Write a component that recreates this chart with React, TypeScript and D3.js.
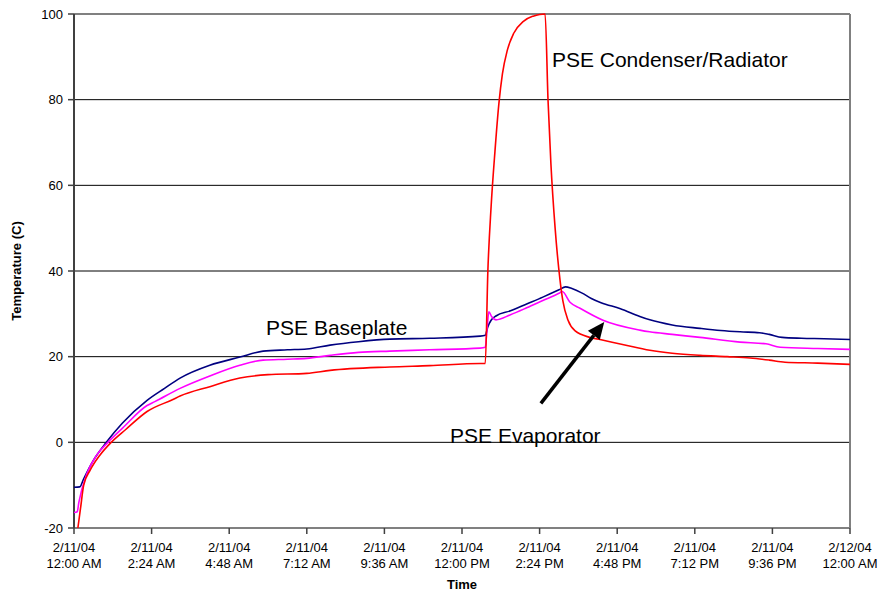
import React from "react";
import * as d3 from "d3";

const xTickHours = [0, 2.4, 4.8, 7.2, 9.6, 12, 14.4, 16.8, 19.2, 21.6, 24];
const xTickDates = ["2/11/04", "2/11/04", "2/11/04", "2/11/04", "2/11/04", "2/11/04", "2/11/04", "2/11/04", "2/11/04", "2/11/04", "2/12/04"];
const xTickTimes = ["12:00 AM", "2:24 AM", "4:48 AM", "7:12 AM", "9:36 AM", "12:00 PM", "2:24 PM", "4:48 PM", "7:12 PM", "9:36 PM", "12:00 AM"];
const yTicks = [-20, 0, 20, 40, 60, 80, 100];
const gridValues = [0, 20, 40, 60, 80];

const baseplateHours = [0, 0.18, 0.3, 0.6, 1.0, 1.5, 2.26, 2.8, 3.28, 4.2, 5.13, 5.85, 6.6, 7.2, 7.92, 8.8, 9.77, 11, 12.56, 12.72, 12.8, 12.9, 13.05, 13.5, 14, 14.5, 15, 15.2, 15.4, 15.7, 16.0, 16.3, 16.9, 17.5, 17.81, 18.5, 19.36, 20, 20.6, 21.2, 21.5, 21.9, 22.5, 23.2, 24];
const baseplateTemps = [-10.5, -10.4, -8.5, -4.2, 0, 4.5, 9.8, 12.6, 15, 18, 19.9, 21.3, 21.6, 21.8, 22.7, 23.5, 24.1, 24.3, 24.8, 25, 27, 28.5, 29.5, 30.7, 32.3, 33.9, 35.6, 36.3, 35.9, 34.9, 33.6, 32.6, 31.2, 29.4, 28.6, 27.4, 26.6, 26.1, 25.8, 25.6, 25.2, 24.5, 24.3, 24.2, 24];

const evaporatorHours = [0, 0.1, 0.15, 0.4, 0.7, 1.05, 1.5, 2.26, 2.5, 3.28, 4.2, 5.13, 5.85, 6.6, 7.2, 7.92, 8.8, 9.77, 11, 12.56, 12.72, 12.78, 12.83, 12.92, 13.05, 13.5, 14, 14.5, 15, 15.1, 15.34, 15.65, 16.36, 17.5, 17.8, 18.5, 19.36, 20.6, 21.4, 21.84, 23, 24];
const evaporatorTemps = [-16.4, -16.2, -14, -7.3, -3, 0, 3.3, 8.6, 9.5, 12.6, 15.5, 18, 19.2, 19.4, 19.6, 20.3, 21, 21.3, 21.6, 22, 22.2, 27, 30.5, 29.3, 28.6, 29.8, 31.4, 33.1, 34.8, 35.2, 32.7, 31.3, 28.5, 26.2, 25.8, 25.2, 24.5, 23.4, 23, 22.2, 21.9, 21.7];

const condenserHours = [0.12, 0.2, 0.3, 0.5, 0.8, 1.15, 1.6, 2.26, 3.06, 3.28, 4.2, 5.13, 6, 7.2, 7.92, 9.77, 11, 12.56, 12.72, 12.8, 12.9, 13.02, 13.14, 13.25, 13.4, 13.6, 13.9, 14.2, 14.4, 14.57, 14.66, 14.75, 14.88, 15.03, 15.12, 15.28, 15.5, 15.96, 16.27, 17, 17.81, 18.5, 19.36, 20.2, 20.91, 21.5, 21.99, 23, 24];
const condenserTemps = [-20, -15.5, -10, -6.5, -3, 0, 3, 7.2, 10, 10.8, 13, 15, 15.8, 16.1, 16.8, 17.6, 17.9, 18.4, 18.4, 40, 55, 68, 79, 86, 91.5, 95.5, 98.3, 99.5, 99.9, 100, 80, 65, 50, 38, 33, 28.5, 26, 24.5, 24, 22.8, 21.5, 20.8, 20.3, 20, 19.7, 19.2, 18.7, 18.5, 18.2];

const seriesNames = ["PSE Baseplate", "PSE Evaporator", "PSE Condenser/Radiator"];
const seriesColors = ["#000080", "#FF00FF", "#FF0000"];

const W = 879;
const H = 592;
const M = { left: 74, right: 29, top: 14, bottom: 64 };
const FONT = "'Liberation Sans', Arial, sans-serif";

export default function App() {
  const x = d3.scaleLinear().domain([0, 24]).range([M.left, W - M.right]);
  const y = d3.scaleLinear().domain([-20, 100]).range([H - M.bottom, M.top]);
  const line = d3
    .line<[number, number]>()
    .x((d) => x(d[0]))
    .y((d) => y(d[1]))
    .curve(d3.curveMonotoneX);

  const series = [
    baseplateHours.map((h, i) => [h, baseplateTemps[i]] as [number, number]),
    evaporatorHours.map((h, i) => [h, evaporatorTemps[i]] as [number, number]),
    condenserHours.map((h, i) => [h, condenserTemps[i]] as [number, number]),
  ];

  const x0 = x(0), x1 = x(24), yTop = y(100), yBot = y(-20);

  // arrow in data coordinates
  const tail: [number, number] = [14.44, 9.1];
  const head: [number, number] = [16.4, 28.1];
  const tx = x(tail[0]), ty = y(tail[1]), hx = x(head[0]), hy = y(head[1]);
  const ang = Math.atan2(hy - ty, hx - tx);
  const aLen = 17, aHalf = 7.5;
  const bx = hx - aLen * Math.cos(ang), by = hy - aLen * Math.sin(ang);
  const px = -Math.sin(ang), py = Math.cos(ang);
  const arrowPts = [
    [hx, hy],
    [bx + aHalf * px, by + aHalf * py],
    [bx - aHalf * px, by - aHalf * py],
  ].map((p) => p.join(",")).join(" ");

  return (
    <svg
      width={W}
      height={H}
      style={{ position: "absolute", left: 0, top: 0, background: "#fff" }}
      fontFamily={FONT}
    >
      <rect x={0} y={0} width={W} height={H} fill="#fff" />
      {gridValues.map((v) => (
        <line key={v} x1={x0} x2={x1} y1={y(v)} y2={y(v)} stroke="#000" strokeWidth={1} />
      ))}
      {/* plot border */}
      <line x1={x0} x2={x1} y1={yTop} y2={yTop} stroke="#808080" strokeWidth={2} />
      <line x1={x1} x2={x1} y1={yTop} y2={yBot} stroke="#808080" strokeWidth={2} />
      <line x1={x0} x2={x1} y1={yBot} y2={yBot} stroke="#808080" strokeWidth={2} />
      <line x1={x0} x2={x0} y1={yTop} y2={yBot} stroke="#404040" strokeWidth={2} />
      {/* y ticks */}
      {yTicks.map((v) => (
        <g key={v}>
          <line x1={x0 - 6} x2={x0} y1={y(v)} y2={y(v)} stroke="#404040" strokeWidth={1.5} />
          <text x={x0 - 11} y={y(v) + 4.5} textAnchor="end" fontSize={13} fill="#000">
            {v}
          </text>
        </g>
      ))}
      {/* x ticks */}
      {xTickHours.map((h, i) => (
        <g key={i}>
          <line x1={x(h)} x2={x(h)} y1={yBot} y2={yBot + 6} stroke="#404040" strokeWidth={1.5} />
          <text x={x(h)} y={yBot + 24} textAnchor="middle" fontSize={13} fill="#000">
            {xTickDates[i]}
          </text>
          <text x={x(h)} y={yBot + 40} textAnchor="middle" fontSize={13} fill="#000">
            {xTickTimes[i]}
          </text>
        </g>
      ))}
      <text x={(x0 + x1) / 2} y={589} textAnchor="middle" fontSize={13} fontWeight="bold">
        Time
      </text>
      <text
        transform={`translate(21,${(yTop + yBot) / 2}) rotate(-90)`}
        textAnchor="middle"
        fontSize={13}
        fontWeight="bold"
      >
        Temperature (C)
      </text>
      {/* series */}
      {series.map((s, i) => (
        <path key={seriesNames[i]} d={line(s) || ""} fill="none" stroke={seriesColors[i]} strokeWidth={1.6} strokeLinejoin="round" />
      ))}
      {/* annotations */}
      <text x={x(14.78)} y={y(87.6)} fontSize={21} fill="#000">PSE Condenser/Radiator</text>
      <text x={x(5.94)} y={y(25)} fontSize={21} fill="#000">PSE Baseplate</text>
      <text x={x(11.63)} y={y(-0.2)} fontSize={21} fill="#000">PSE Evaporator</text>
      <line x1={tx} y1={ty} x2={bx} y2={by} stroke="#000" strokeWidth={3.5} />
      <polygon points={arrowPts} fill="#000" />
    </svg>
  );
}
